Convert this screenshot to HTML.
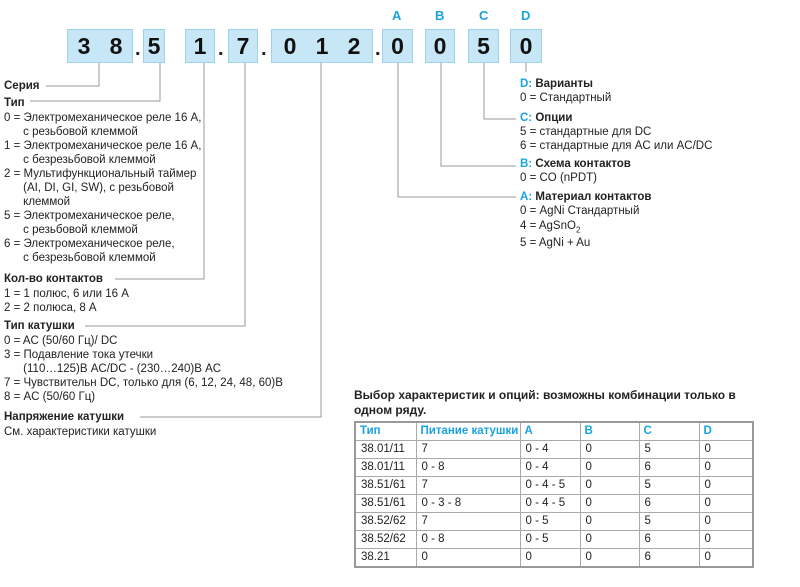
<!DOCTYPE html>
<html><head><meta charset="utf-8"><style>
body{margin:0;width:800px;height:587px;background:#fff;position:relative;overflow:hidden;font-family:"Liberation Sans",Arial,sans-serif;color:#222}
.t{position:absolute;font-size:11.5px;line-height:14px;white-space:nowrap}
b{font-weight:bold}
.bl{color:#19a3e0;font-weight:bold}
.box{position:absolute;top:29px;height:34px;background:#c8e7f6;border:1px solid #9dd1ec;box-sizing:border-box;font-weight:bold;font-size:23px;line-height:33px;text-align:center;color:#111}
.dot{position:absolute;top:38px;font-weight:bold;font-size:20px}
.ltr{position:absolute;top:8px;font-size:13px;font-weight:bold;color:#19a3e0}
table{position:absolute;left:354px;top:421px;width:398px;table-layout:fixed;border-collapse:collapse;font-size:11.5px;border:2px solid #999}
td{border:1px solid #aaa;height:17px;padding:0 0 0 5px;line-height:17px;white-space:nowrap;overflow:hidden}
th{border:1px solid #aaa;height:17px;padding:0 0 0 4px;text-align:left;color:#19a3e0;font-weight:bold;font-size:11.5px;white-space:nowrap;overflow:hidden;line-height:17px}
</style></head><body>
<svg width="800" height="587" style="position:absolute;left:0;top:0" fill="none" stroke="#999" stroke-width="1">
<polyline points="46,86 99,86 99,63"/>
<polyline points="30,101 160,101 160,63"/>
<polyline points="115,279 204,279 204,63"/>
<polyline points="85,326 245,326 245,63"/>
<polyline points="140,417 321,417 321,63"/>
<polyline points="398,63 398,197 516,197"/>
<polyline points="441,63 441,166 516,166"/>
<polyline points="484,63 484,119 516,119"/>
<polyline points="526,63 526,72"/>
</svg>
<div class="ltr" style="left:392px">A</div>
<div class="ltr" style="left:435px">B</div>
<div class="ltr" style="left:479px">C</div>
<div class="ltr" style="left:521px">D</div>
<div class="box" style="left:67px;width:66px">3&nbsp;&nbsp;&nbsp;8</div>
<div class="dot" style="left:135px">.</div>
<div class="box" style="left:143px;width:22px">5</div>
<div class="box" style="left:185px;width:30px">1</div>
<div class="dot" style="left:218px">.</div>
<div class="box" style="left:228px;width:30px">7</div>
<div class="dot" style="left:261px">.</div>
<div class="box" style="left:271px;width:102px">0&nbsp;&nbsp;&nbsp;1&nbsp;&nbsp;&nbsp;2</div>
<div class="dot" style="left:375px">.</div>
<div class="box" style="left:382px;width:31px">0</div>
<div class="box" style="left:425px;width:30px">0</div>
<div class="box" style="left:468px;width:31px">5</div>
<div class="box" style="left:510px;width:32px">0</div>

<div class="t" style="left:4px;top:79px"><b>Серия</b></div>
<div class="t" style="left:4px;top:96px"><b>Тип</b></div>
<div class="t" style="left:4px;top:111px">0 = Электромеханическое реле 16 A,<br>&nbsp;&nbsp;&nbsp;&nbsp;&nbsp; с резьбовой клеммой<br>1 = Электромеханическое реле 16 A,<br>&nbsp;&nbsp;&nbsp;&nbsp;&nbsp; с безрезьбовой клеммой<br>2 = Мультифункциональный таймер<br>&nbsp;&nbsp;&nbsp;&nbsp;&nbsp; (AI, DI, GI, SW), с резьбовой<br>&nbsp;&nbsp;&nbsp;&nbsp;&nbsp; клеммой<br>5 = Электромеханическое реле,<br>&nbsp;&nbsp;&nbsp;&nbsp;&nbsp; с резьбовой клеммой<br>6 = Электромеханическое реле,<br>&nbsp;&nbsp;&nbsp;&nbsp;&nbsp; с безрезьбовой клеммой</div>
<div class="t" style="left:4px;top:272px"><b>Кол-во контактов</b></div>
<div class="t" style="left:4px;top:287px">1 = 1 полюс, 6 или 16 A<br>2 = 2 полюса, 8 A</div>
<div class="t" style="left:4px;top:319px"><b>Тип катушки</b></div>
<div class="t" style="left:4px;top:334px">0 = AC (50/60 Гц)/ DC<br>3 = Подавление тока утечки<br>&nbsp;&nbsp;&nbsp;&nbsp;&nbsp; (110…125)В AC/DC - (230…240)В AC<br>7 = Чувствительн DC, только для (6, 12, 24, 48, 60)В<br>8 = AC (50/60 Гц)</div>
<div class="t" style="left:4px;top:410px"><b>Напряжение катушки</b></div>
<div class="t" style="left:4px;top:425px">См. характеристики катушки</div>

<div class="t" style="left:520px;top:77px"><span class="bl">D:</span> <b>Варианты</b><br>0 = Стандартный</div>
<div class="t" style="left:520px;top:111px"><span class="bl">C:</span> <b>Опции</b><br>5 = стандартные для DC<br>6 = стандартные для AC или AC/DC</div>
<div class="t" style="left:520px;top:157px"><span class="bl">B:</span> <b>Схема контактов</b><br>0 = CO (nPDT)</div>
<div class="t" style="left:520px;top:190px"><span class="bl">A:</span> <b>Материал контактов</b><br>0 = AgNi Стандартный</div>
<div class="t" style="left:520px;top:219px">4 = AgSnO<sub style="font-size:8px">2</sub></div>
<div class="t" style="left:520px;top:236px">5 = AgNi + Au</div>

<div class="t" style="left:354px;top:388px;font-size:12px;line-height:15px"><b>Выбор характеристик и опций: возможны комбинации только в<br>одном ряду.</b></div>
<table>
<colgroup><col style="width:61px"><col style="width:104px"><col style="width:60px"><col style="width:59px"><col style="width:60px"><col style="width:54px"></colgroup>
<tr><th>Тип</th><th>Питание катушки</th><th>A</th><th>B</th><th>C</th><th>D</th></tr>
<tr><td>38.01/11</td><td>7</td><td>0 - 4</td><td>0</td><td>5</td><td>0</td></tr>
<tr><td>38.01/11</td><td>0 - 8</td><td>0 - 4</td><td>0</td><td>6</td><td>0</td></tr>
<tr><td>38.51/61</td><td>7</td><td>0 - 4 - 5</td><td>0</td><td>5</td><td>0</td></tr>
<tr><td>38.51/61</td><td>0 - 3 - 8</td><td>0 - 4 - 5</td><td>0</td><td>6</td><td>0</td></tr>
<tr><td>38.52/62</td><td>7</td><td>0 - 5</td><td>0</td><td>5</td><td>0</td></tr>
<tr><td>38.52/62</td><td>0 - 8</td><td>0 - 5</td><td>0</td><td>6</td><td>0</td></tr>
<tr><td>38.21</td><td>0</td><td>0</td><td>0</td><td>6</td><td>0</td></tr>
</table>
</body></html>
